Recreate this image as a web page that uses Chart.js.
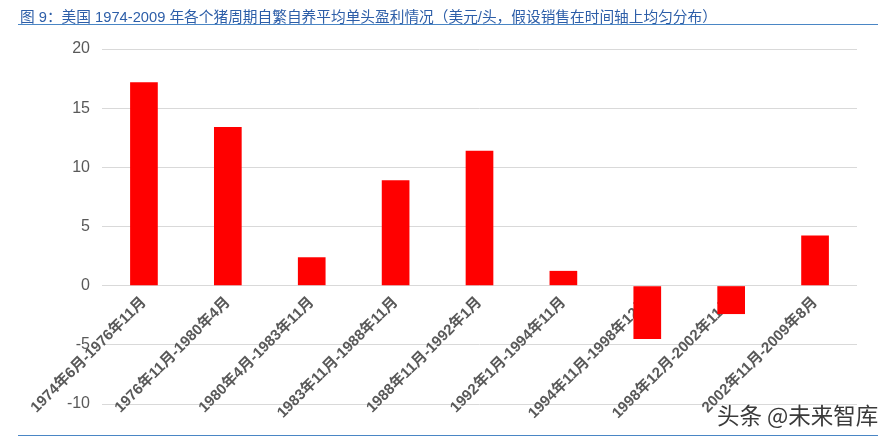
<!DOCTYPE html>
<html>
<head>
<meta charset="utf-8">
<script src="https://cdn.jsdelivr.net/npm/chart.js@4"></script>
<style>
  body { margin: 0; background: #fff; }
  #wrap { position: relative; width: 894px; height: 438px; overflow: hidden; }
  #title { position: absolute; left: 20px; top: 5px; font: 14.7px "Liberation Sans", "Noto Sans CJK SC", sans-serif; color: #2d5ea8; white-space: nowrap; }
  .rule { position: absolute; left: 18px; width: 860px; height: 0; border-top: 1.5px solid #4a86c5; }
  #mark { position: absolute; left: 717px; top: 398px; font: 22.5px "Noto Sans CJK SC", sans-serif; color: #3a3a3a;
          text-shadow: 0 0 2px #fff, 0 0 2px #fff, 0 0 3px #fff; white-space: nowrap; }
  canvas { position: absolute; left: 0; top: 0; }
</style>
</head>
<body>
<div id="wrap">
  <canvas id="myChart" width="894" height="438"></canvas>
  <div id="title">图 9：美国 1974-2009 年各个猪周期自繁自养平均单头盈利情况（美元/头，假设销售在时间轴上均匀分布）</div>
  <div class="rule" style="top:24px"></div>
  <div class="rule" style="top:435px"></div>
  <div id="mark">头条 @未来智库</div>
</div>
<script>
// cycles (category labels)
let cycles = [
    "1974年6月-1976年11月",
    "1976年11月-1980年4月",
    "1980年4月-1983年11月",
    "1983年11月-1988年11月",
    "1988年11月-1992年1月",
    "1992年1月-1994年11月",
    "1994年11月-1998年12月",
    "1998年12月-2002年11月",
    "2002年11月-2009年8月"
];

// average profit per head, USD
let profit = [17.2, 13.4, 2.4, 8.9, 11.4, 1.25, -4.5, -2.4, 4.25];

let yTicks = [-10, -5, 0, 5, 10, 15, 20];

let ctx = document.getElementById("myChart").getContext("2d");
var chart = new Chart(ctx,
{
    type: "bar",
    data: {
        labels: cycles,
        datasets: [
            {
                data: profit,
                backgroundColor: "#ff0000",
                barPercentage: 0.33,
                categoryPercentage: 1
            }
        ]
    },
    options: {
        responsive: false,
        animation: false,
        layout: { padding: { left: 0, right: 37, top: 49, bottom: 34 } },
        plugins: { legend: { display: false }, tooltip: { enabled: false } },
        scales: {
            x: {
                position: { y: 0 },
                grid: { display: false },
                border: { display: false },
                ticks: {
                    autoSkip: false,
                    minRotation: 45,
                    maxRotation: 45,
                    padding: 0,
                    color: "#595959",
                    font: { family: "'Liberation Sans', 'Noto Sans CJK SC'", size: 15, weight: "bold" }
                },
                afterFit: function (scale) { scale.height = 34; }
            },
            y: {
                min: yTicks[0],
                max: yTicks[yTicks.length - 1],
                afterBuildTicks: function (scale) {
                    scale.ticks = yTicks.map(function (v) { return { value: v }; });
                },
                grid: { color: "#d9d9d9", lineWidth: 1, drawTicks: false },
                border: { display: false },
                ticks: {
                    padding: 12,
                    color: "#595959",
                    font: { family: "'Liberation Sans', sans-serif", size: 16 }
                },
                afterFit: function (scale) { scale.width = 102; }
            }
        }
    }
});
</script>
</body>
</html>
